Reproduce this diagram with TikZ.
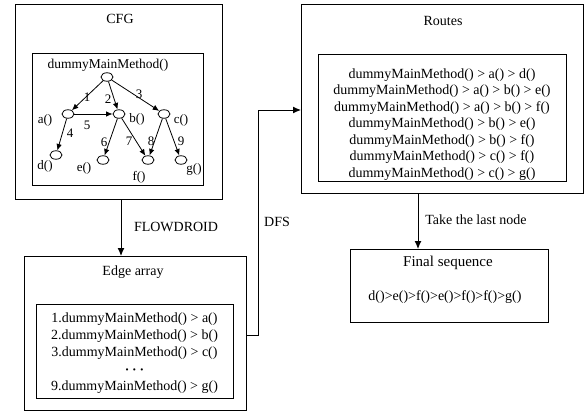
\documentclass[tikz,border=0pt]{standalone}
\usepackage{fontspec}
\setmainfont{Liberation Serif}
\usepackage{tikz}
\usetikzlibrary{arrows,arrows.meta,shapes.geometric}

\tikzset{
  frame/.style={draw, line width=1pt, outer sep=0pt, inner sep=0pt},
  vert/.style={draw, ellipse, line width=0.8pt, minimum width=12pt, minimum height=8.5pt, inner sep=0pt},
  lbl/.style={font=\fontsize{13}{15}\selectfont, inner sep=0pt},
  txt/.style={font=\fontsize{14}{16.5}\selectfont, align=center, inner sep=0pt},
  link/.style={-{Latex[length=8pt,width=7pt]}, line width=1pt},
  arc/.style={-{Latex[length=6.5pt,width=5.5pt]}, line width=0.8pt},
}

\begin{document}
\begin{tikzpicture}[x=1pt, y=-1pt]
\useasboundingbox (0,0) rectangle (585,412);
%%%%% Boxes %%%%%
\node[frame, minimum width=207pt, minimum height=194pt] (cfg) at (118.5,102) {};
\node[frame, minimum width=171pt, minimum height=132pt] (cfgin) at (117.5,119) {};
\node[frame, minimum width=222pt, minimum height=154pt] (edge) at (135,333) {};
\node[frame, minimum width=197pt, minimum height=94pt] (edgein) at (134.5,351) {};
\node[frame, minimum width=282pt, minimum height=188pt] (routes) at (442,99) {};
\node[frame, minimum width=248pt, minimum height=127pt] (routesin) at (442,117.5) {};
\node[frame, minimum width=198pt, minimum height=73pt] (final) at (449,285.5) {};

%%%%% Titles %%%%%
\node[txt] (cfgtitle) at (120,19) {CFG};
\node[txt] (edgetitle) at (133,272) {Edge array};
\node[txt] (routestitle) at (443,21) {Routes};
\node[txt, font=\fontsize{15}{17}\selectfont] (finaltitle) at (448,263) {Final sequence};

%%%%% Graph %%%%%
\node[lbl, font=\fontsize{13.5}{15}\selectfont] (rootlbl) at (108,65) {dummyMainMethod()};
\node[vert] (root) at (107,77) {};
\foreach \n/\x/\y in {a/68/114, b/119/114, c/164/114, d/56/155, e/103/160, f/148/160, g/181/160}{
  \node[vert] (\n) at (\x,\y) {};
}
\foreach \n/\x/\y in {a/45/120, b/137/119, c/181/120, d/45/166, e/84/168, f/139/177, g/194/169}{
  \node[lbl] (\n lbl) at (\x,\y) {\n()};
}
\foreach \s/\t/\k/\x/\y in {root/a/1/87/97, root/b/2/108/99, root/c/3/139/94, a/d/4/70/133, a/b/5/87/125, b/e/6/104/142, b/f/7/129/141, c/f/8/151/141, c/g/9/181/141}{
  \draw[arc] (\s) -- (\t);
  \node[lbl] (n\k) at (\x,\y) {\k};
}

%%%%% Lists %%%%%
\node[txt, font=\fontsize{14}{17}\selectfont] (edgelist) at (134.5,353.5) {1.dummyMainMethod() > a()\\2.dummyMainMethod() > b()\\3.dummyMainMethod() > c()\\{\boldmath$\cdots$}\\9.dummyMainMethod() > g()};
\node[txt] (routelist) at (442,124.5) {dummyMainMethod() > a() > d()\\dummyMainMethod() > a() > b() > e()\\dummyMainMethod() > a() > b() > f()\\dummyMainMethod() > b() > e()\\dummyMainMethod() > b() > f()\\dummyMainMethod() > c() > f()\\dummyMainMethod() > c() > g()};
\node[txt] (finallist) at (445,297) {d()>e()>f()>e()>f()>f()>g()};

%%%%% Connectors %%%%%
\draw[link] ([xshift=2.5pt]cfg.south) -- ([xshift=2.5pt]cfg.south |- edge.north);
\draw[link] ([yshift=-2pt]edge.east) -- ++(12,0) |- ([yshift=-11pt]routes.west);
\draw[link] ([xshift=-24pt]routes.south) -- ([xshift=-24pt]routes.south |- final.north);
\node[txt] (flowlbl) at (176,227) {FLOWDROID};
\node[txt] (dfslbl) at (277,222) {DFS};
\node[txt] (lastlbl) at (476,220) {Take the last node};
\end{tikzpicture}
\end{document}
